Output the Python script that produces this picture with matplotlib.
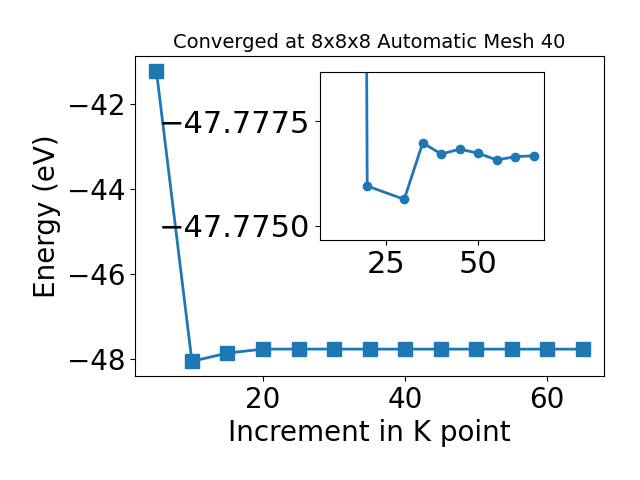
import matplotlib
matplotlib.use("Agg")
import matplotlib.pyplot as plt

# main convergence data
kpoints = [5, 10, 15, 20, 25, 30, 35, 40, 45, 50, 55, 60, 65]
energy = [-41.21, -48.064, -47.87, -47.7760, -47.7758, -47.77563, -47.77698, -47.77671,
          -47.77683, -47.77673, -47.77657, -47.77665, -47.77667]

# zoomed inset data
kpoints_zoom = [10, 15, 20, 30, 35, 40, 45, 50, 55, 60, 65]
energy_zoom = [-48.064, -47.87, -47.77595, -47.77563, -47.77698, -47.77671, -47.77683,
               -47.77673, -47.77657, -47.77665, -47.77667]

fig = plt.figure(figsize=(6.4, 4.8), dpi=100)
ax = fig.add_subplot(111)
ax.plot(kpoints, energy, "s-", linewidth=2, markersize=10)
ax.set_title("Converged at 8x8x8 Automatic Mesh 40", fontsize=14)
ax.set_xlabel("Increment in K point", fontsize=20)
ax.set_ylabel("Energy (eV)", fontsize=20)
ax.tick_params(labelsize=20)
plt.subplots_adjust(left=0.211, right=0.944, top=0.883, bottom=0.217)

ins = fig.add_axes([0.5, 0.5, 0.35, 0.35])
ins.plot(kpoints_zoom, energy_zoom, "o-", linewidth=2, markersize=6)
ins.set_ylim(-47.77466, -47.77867)
ins.set_yticks([-47.7775, -47.7750])
ins.ticklabel_format(axis="y", useOffset=False)
ins.tick_params(labelsize=22)

fig.savefig("out.png")
